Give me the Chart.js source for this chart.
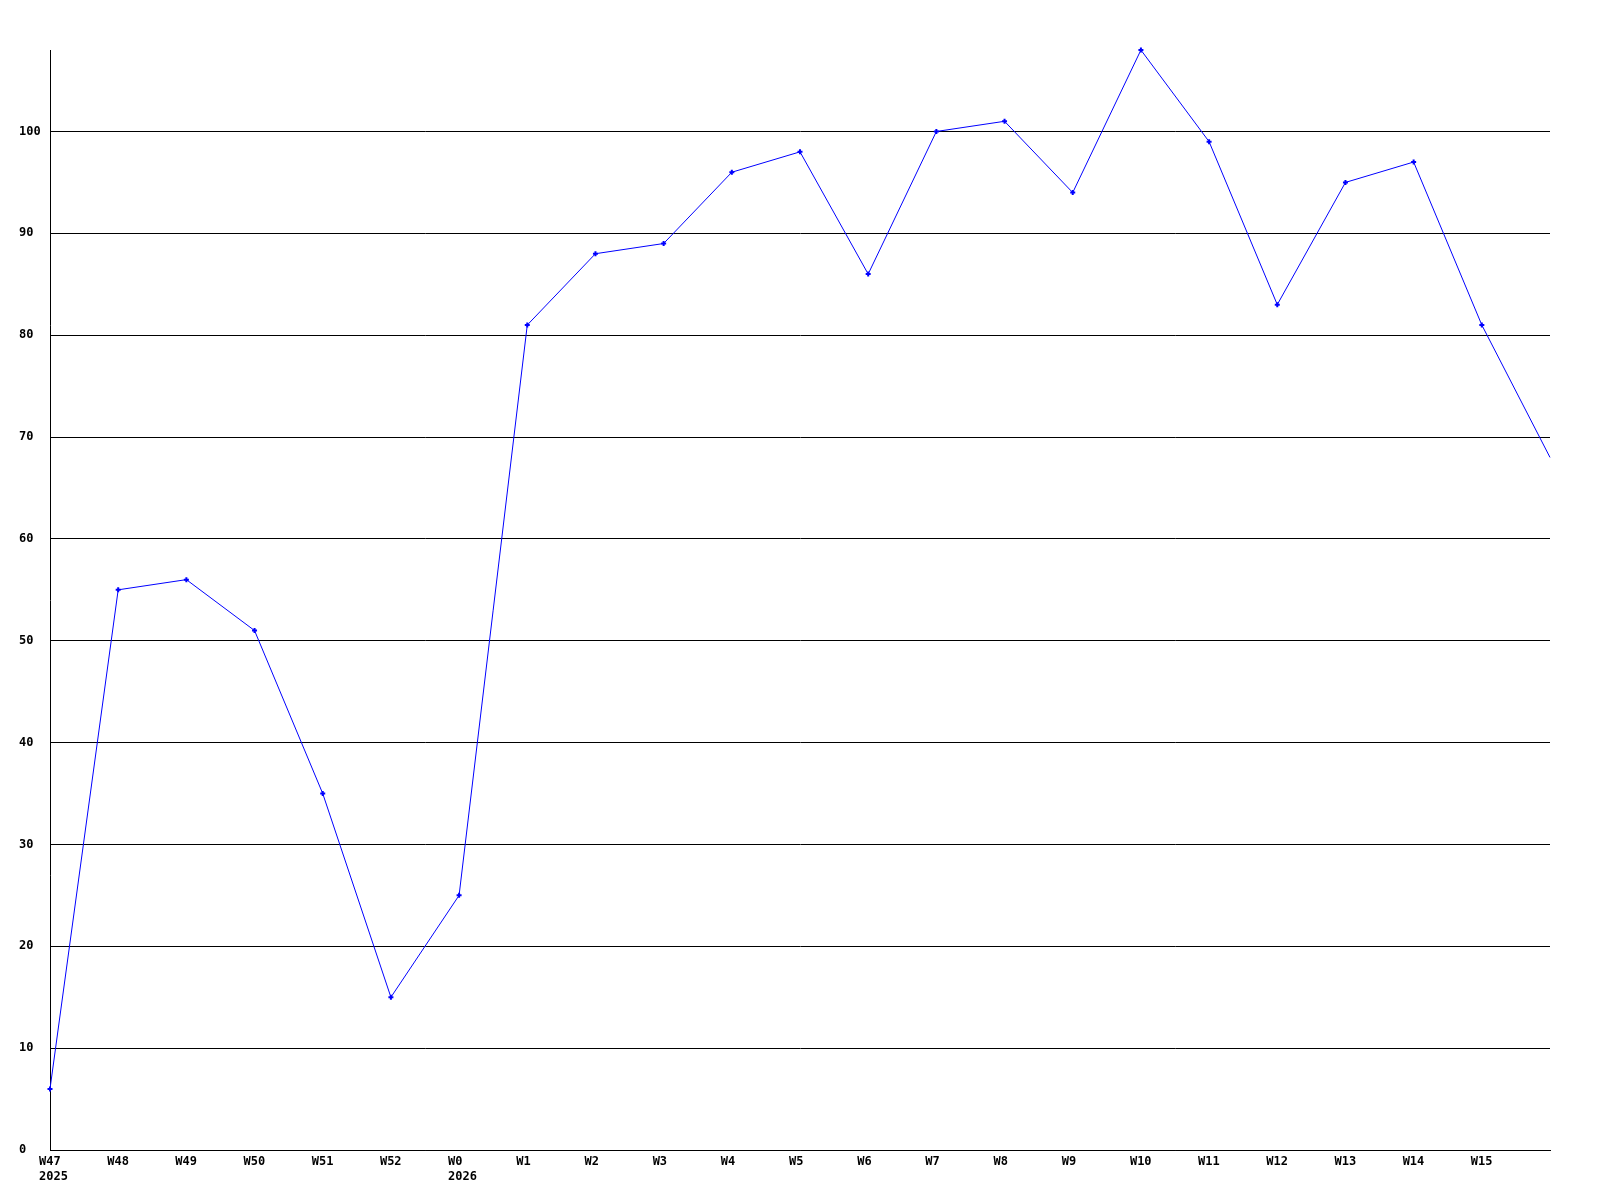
<!DOCTYPE html>
<html>
<head>
<meta charset="utf-8">
<script src="https://cdn.jsdelivr.net/npm/chart.js@4"></script>
<style>
  html, body { margin: 0; padding: 0; background: #ffffff; }
  #wrap { width: 1600px; height: 1200px; }
</style>
</head>
<body>
<div id="wrap"><canvas id="c" width="1600" height="1200"></canvas></div>
<script>
const weekLabels = ['W47','W48','W49','W50','W51','W52','W0','W1','W2','W3','W4','W5','W6','W7','W8','W9','W10','W11','W12','W13','W14','W15',''];
const yearLabels = ['2025','','','','','','2026','','','','','','','','','','','','','','','',''];
const values = [6,55,56,51,35,15,25,81,88,89,96,98,86,100,101,94,108,99,83,95,97,81,68];
const yMin = 0;
const yMax = 108;
const yStep = 10;

const FONT = 'bold 12px "DejaVu Sans Mono", "Liberation Mono", monospace';

const xLabelPlugin = {
  id: 'xLabels',
  afterDraw(chart) {
    const ctx = chart.ctx;
    const xs = chart.scales.x;
    const bottom = chart.chartArea.bottom;
    ctx.save();
    ctx.font = FONT;
    ctx.fillStyle = '#000000';
    ctx.textAlign = 'left';
    ctx.textBaseline = 'middle';
    for (let i = 0; i < weekLabels.length; i++) {
      const px = xs.getPixelForValue(i);
      if (weekLabels[i]) ctx.fillText(weekLabels[i], px - 11, bottom + 12);
      if (yearLabels[i]) ctx.fillText(yearLabels[i], px - 11, bottom + 27);
    }
    ctx.restore();
  }
};

new Chart(document.getElementById('c'), {
  type: 'line',
  data: {
    labels: weekLabels,
    datasets: [{
      data: values,
      borderColor: '#0000ff',
      backgroundColor: '#0000ff',
      borderWidth: 1,
      tension: 0,
      fill: false,
      clip: false,
      pointStyle: 'cross',
      pointRadius: values.map((v, i) => i === values.length - 1 ? 0 : 2.5),
      pointBorderWidth: 2,
      pointBorderColor: '#0000ff'
    }]
  },
  options: {
    responsive: false,
    animation: false,
    devicePixelRatio: 1,
    layout: { padding: { left: 19, right: 50, top: 50, bottom: 0 } },
    plugins: { legend: { display: false }, tooltip: { enabled: false }, title: { display: false } },
    font: { family: '"DejaVu Sans Mono"', weight: 'bold', size: 12 },
    scales: {
      x: {
        type: 'category',
        offset: false,
        grid: { display: false, drawTicks: false },
        border: { display: true, color: '#000000', width: 1 },
        ticks: { display: false },
        afterFit(scale) { scale.height = 50; }
      },
      y: {
        min: yMin,
        max: yMax,
        grid: { color: '#000000', lineWidth: 1, drawTicks: false },
        border: { display: true, color: '#000000', width: 1 },
        ticks: {
          stepSize: yStep,
          crossAlign: 'far',
          padding: 0,
          color: '#000000',
          font: { family: '"DejaVu Sans Mono", "Liberation Mono", monospace', weight: 'bold', size: 12 }
        },
        afterBuildTicks(scale) {
          scale.ticks = scale.ticks.filter(t => t.value % yStep === 0);
        },
        afterFit(scale) { scale.width = 31; }
      }
    }
  },
  plugins: [xLabelPlugin]
});
</script>
</body>
</html>
